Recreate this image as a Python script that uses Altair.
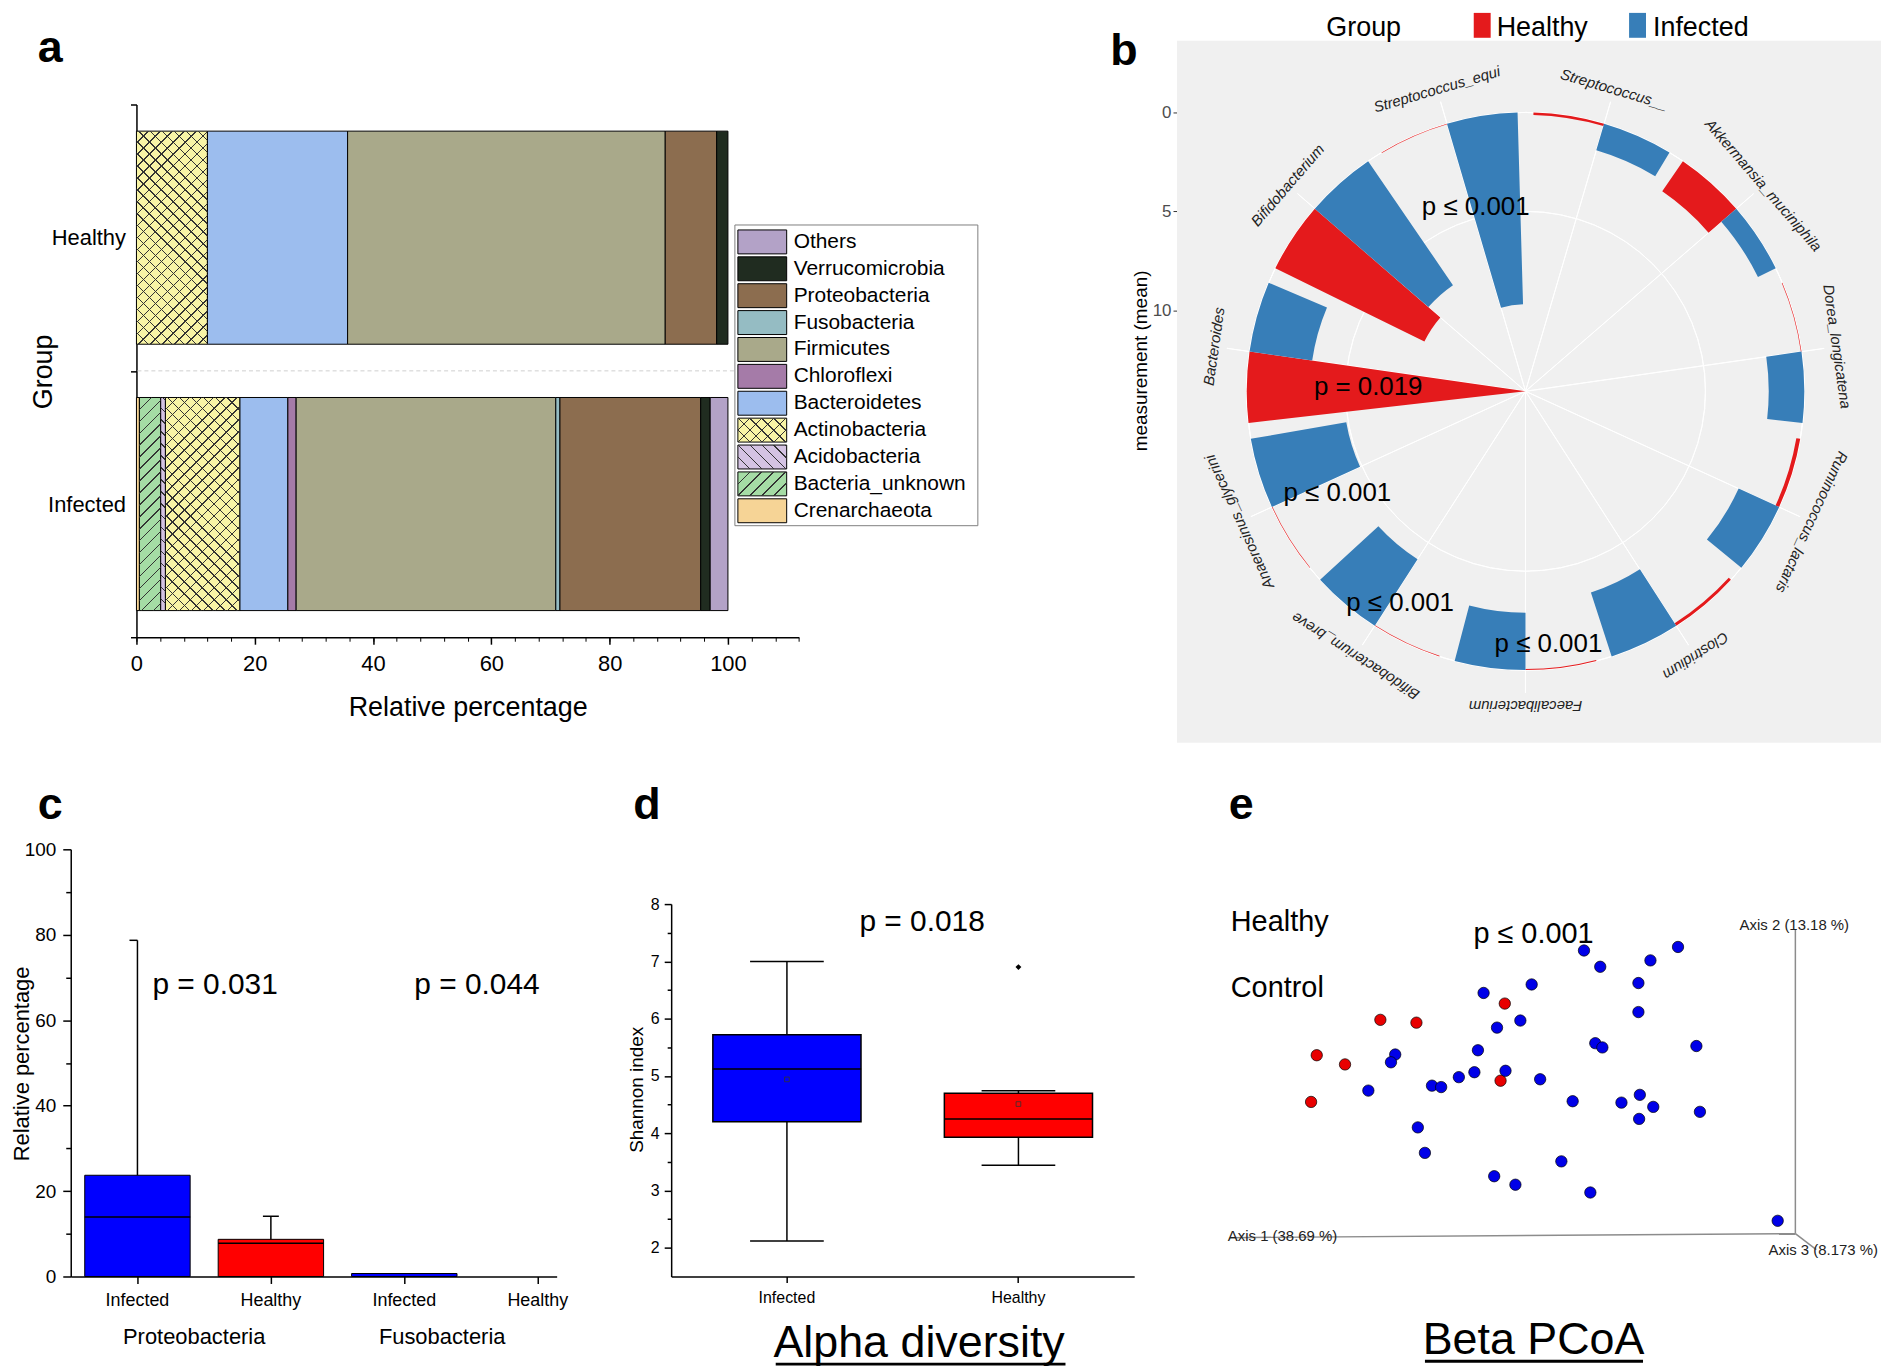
import altair as alt
import pandas as pd

FONT = "Liberation Sans"
W, H = 1881, 1364


def P(v):
    return v - 8


one = pd.DataFrame({"k": [0]})

# ---------------- data ----------------
# panel a
phyla = ["Crenarchaeota", "Bacteria_unknown", "Acidobacteria", "Actinobacteria", "Bacteroidetes",
         "Chloroflexi", "Firmicutes", "Fusobacteria", "Proteobacteria", "Verrucomicrobia", "Others"]
phyla_colors = ["#F6D496", "#A5DCA5", "#D4C3E3", "#F8F4A6", "#9CBDEE",
                "#A57BA8", "#A9A98A", "#95BCC3", "#8C6D4F", "#202C20", "#B3A2C7"]
healthy_pct = [0.0, 0.0, 0.0, 12.0, 23.7, 0.0, 53.7, 0.0, 8.7, 1.9, 0.0]
infected_pct = [0.5, 3.6, 0.8, 12.6, 8.1, 1.4, 43.9, 0.7, 23.8, 1.6, 3.0]

# panel b
b_cats = ["Streptococcus__", "Akkermansia_muciniphila", "Dorea_longicatena", "Ruminococcus_lactaris",
          "Clostridium", "Faecalibacterium", "Bifidobacterium_breve", "Anaerosinus_glycerini",
          "Bacteroides", "Bifidobacterium", "Streptococcus_equi"]
b_healthy = [0.12, 1.85, 0.03, 0.2, 0.15, 0.05, 0.03, 0.03, 14.1, 8.4, 0.03]
b_infected = [1.4, 1.0, 1.8, 2.25, 3.4, 2.9, 4.0, 4.9, 3.2, 7.6, 9.7]

# panel c
c_phyla = ["Proteobacteria", "Proteobacteria", "Fusobacteria", "Fusobacteria"]
c_groups = ["Infected", "Healthy", "Infected", "Healthy"]
c_box = [23.7, 8.7, 0.7, 0.0]
c_line = [13.9, 7.8, 0.6, 0.0]
c_whisker = [78.7, 14.1, 0.7, 0.0]

# panel d
d_groups = ["Infected", "Healthy"]
d_low = [2.12, 3.44]
d_q1 = [4.20, 3.93]
d_med = [5.12, 4.25]
d_q3 = [5.72, 4.70]
d_high = [7.00, 4.74]
d_mean = [4.94, 4.51]
d_out_group = ["Healthy"]
d_out_val = [6.90]

# panel e
e_grp = ["Healthy"] * 7 + ["Infected"] * 36
e_pc1 = [-0.277, -0.237, -0.285, -0.187, -0.136, -0.011, -0.017,
         -0.041, 0.027, 0.101, 0.124, 0.195, 0.234, 0.178, 0.178, 0.011, -0.022,
         -0.049, -0.166, -0.172, -0.204, -0.114, -0.101, -0.076, -0.054, -0.010,
         0.039, 0.117, 0.127, 0.260, 0.085, 0.154, 0.180, 0.199, 0.179, 0.265,
         -0.134, -0.124, -0.026, 0.004, 0.069, 0.110, 0.375]
e_pc2 = [0.039, 0.026, -0.027, 0.089, 0.085, 0.112, 0.003,
         0.127, 0.139, 0.187, 0.164, 0.173, 0.192, 0.141, 0.100, 0.088, 0.078,
         0.046, 0.040, 0.029, -0.011, -0.004, -0.006, 0.008, 0.015, 0.017,
         0.005, 0.056, 0.050, 0.052, -0.026, -0.028, -0.017, -0.034, -0.051, -0.041,
         -0.063, -0.099, -0.132, -0.144, -0.111, -0.155, -0.195]

# ---------------- helpers ----------------
CLEAR = "rgba(0,0,0,0)"


def hatch(w, h, direction, period=12.0, lw=1.0, color="#333333"):
    L = w + h
    k = L / (w * w + h * h)
    dx, dy = w * k, h * k
    if direction == "fwd":
        x1, y1, x2, y2 = 0, 0, dx, dy
    else:
        x1, y1, x2, y2 = 0, 1, dx, 1 - dy
    half = lw * 1.4142 / 2 / L
    stops = [alt.GradientStop(color=CLEAR, offset=0)]
    n = 1
    while n * period < L - 1:
        c = n * period / L
        lo, hi = max(0.0, c - half), min(1.0, c + half)
        stops += [alt.GradientStop(color=CLEAR, offset=lo), alt.GradientStop(color=color, offset=lo),
                  alt.GradientStop(color=color, offset=hi), alt.GradientStop(color=CLEAR, offset=hi)]
        n += 1
    stops.append(alt.GradientStop(color=CLEAR, offset=1))
    return alt.LinearGradient(gradient="linear", stops=stops, x1=x1, y1=y1, x2=x2, y2=y2)


def txt(s, x, y, size, align="center", baseline="middle", **kw):
    return alt.Chart(one).mark_text(text=s, fontSize=size, align=align, baseline=baseline, **kw).encode(
        x=alt.value(P(x)), y=alt.value(P(y)))


def rule(x1, y1, x2, y2, **kw):
    return alt.Chart(one).mark_rule(**kw).encode(
        x=alt.value(P(x1)), y=alt.value(P(y1)), x2=alt.value(P(x2)), y2=alt.value(P(y2)))


def rect(x1, y1, x2, y2, **kw):
    return alt.Chart(one).mark_rect(**kw).encode(
        x=alt.value(P(x1)), y=alt.value(P(y1)), x2=alt.value(P(x2)), y2=alt.value(P(y2)))


layers = []

# ================= PANEL A =================
a_rows = []
for i, ph in enumerate(phyla):
    a_rows.append({"group": "Healthy", "phylum": ph, "order": i, "pct": healthy_pct[i]})
    a_rows.append({"group": "Infected", "phylum": ph, "order": i, "pct": infected_pct[i]})
a_df = pd.DataFrame(a_rows)

A_X0, A_X1 = 137, 137 + 112 * 5.94
A_PX = (A_X1 - A_X0) / 112
A_Y0, A_Y1 = 102, 637
BAND_A = 0.8
A_BH = (A_Y1 - A_Y0) / 2 * BAND_A
a_xs = alt.Scale(domain=[0, 112], range=[P(A_X0), P(A_X1)], nice=False, zero=False)
a_ys = alt.Scale(domain=["Healthy", "Infected"], range=[P(A_Y0), P(A_Y1)], paddingInner=0, paddingOuter=0)
a_cs = alt.Scale(domain=phyla, range=phyla_colors)

a_stack = alt.Chart(a_df).transform_filter("datum.pct > 0").transform_stack(
    stack="pct", groupby=["group"], as_=["x0", "x1"], sort=[alt.SortField("order", order="ascending")])

a_bars = a_stack.mark_bar(height={"band": BAND_A}, stroke="black", strokeWidth=1).encode(
    x=alt.X("x0:Q", scale=a_xs, axis=alt.Axis(
        orient="bottom", offset=P(A_Y1) - H, values=[0, 20, 40, 60, 80, 100], format="d",
        tickSize=7, tickWidth=1.5, tickColor="black", domainColor="black", domainWidth=1.5,
        labelFontSize=22, labelColor="black", labelPadding=9, labelFlush=False, grid=False,
        title="Relative percentage", titleFontSize=27, titleFontWeight="normal", titleColor="black",
        titleBaseline="alphabetic", titleY=79)),
    x2="x1:Q",
    y=alt.Y("group:N", scale=a_ys, axis=alt.Axis(
        orient="left", offset=-P(A_X0), tickBand="extent", tickSize=6, tickWidth=1.5, tickColor="black",
        domainColor="black", domainWidth=1.5, labelFontSize=22, labelColor="black", labelPadding=5,
        labelAngle=0, grid=False, title="Group", titleFontSize=27, titleFontWeight="normal",
        titleColor="black", titleAngle=270, titleAlign="center", titleBaseline="middle",
        titleX=44 - A_X0, titleY=P(370))),
    color=alt.Color("phylum:N", scale=a_cs, legend=None),
)
layers.append(a_bars)

a_minor = alt.Chart(one).mark_point(opacity=0).encode(
    x=alt.X("k:Q", scale=a_xs, axis=alt.Axis(
        orient="bottom", offset=P(A_Y1) - H, values=list(range(0, 113, 4)), tickSize=4, tickWidth=1,
        tickColor="black", labels=False, domain=False, grid=False, title=None)))
layers.append(a_minor)


def a_hatch(group, phylum, direction):
    vals = healthy_pct if group == "Healthy" else infected_pct
    w = vals[phyla.index(phylum)] * A_PX
    return a_stack.transform_filter(
        f"datum.group == '{group}' && datum.phylum == '{phylum}'").mark_bar(
        height={"band": BAND_A}, fill=hatch(w, A_BH, direction), strokeWidth=0).encode(
        x=alt.X("x0:Q", scale=a_xs, axis=None), x2="x1:Q",
        y=alt.Y("group:N", scale=a_ys, axis=None))


layers += [a_hatch("Healthy", "Actinobacteria", "fwd"), a_hatch("Healthy", "Actinobacteria", "back"),
           a_hatch("Infected", "Actinobacteria", "fwd"), a_hatch("Infected", "Actinobacteria", "back"),
           a_hatch("Infected", "Bacteria_unknown", "fwd"), a_hatch("Infected", "Acidobacteria", "back")]

layers.append(rule(A_X0 + 1, 369.5, 802, 369.5, strokeDash=[4, 3], color="#CFCFCF", strokeWidth=1))

# legend of panel a
leg_df = pd.DataFrame({"phylum": phyla})
l_ys = alt.Scale(domain=phyla[::-1], range=[P(226.5), P(523.5)], paddingInner=0, paddingOuter=0)
LBAND = 0.89
LSW_X0, LSW_X1 = 741, 790
layers.append(rect(738, 223, 982, 525, fill="white", stroke="#7F7F7F", strokeWidth=1))
layers.append(alt.Chart(leg_df).mark_bar(height={"band": LBAND}, stroke="black", strokeWidth=1).encode(
    x=alt.value(P(LSW_X0)), x2=alt.value(P(LSW_X1)),
    y=alt.Y("phylum:N", scale=l_ys, axis=None),
    color=alt.Color("phylum:N", scale=a_cs, legend=None)))


def l_hatch(phylum, direction):
    return alt.Chart(leg_df).transform_filter(f"datum.phylum == '{phylum}'").mark_bar(
        height={"band": LBAND}, fill=hatch(LSW_X1 - LSW_X0, 27 * LBAND, direction), strokeWidth=0).encode(
        x=alt.value(P(LSW_X0)), x2=alt.value(P(LSW_X1)), y=alt.Y("phylum:N", scale=l_ys, axis=None))


layers += [l_hatch("Actinobacteria", "fwd"), l_hatch("Actinobacteria", "back"),
           l_hatch("Bacteria_unknown", "fwd"), l_hatch("Acidobacteria", "back")]
layers.append(alt.Chart(leg_df).mark_text(align="left", baseline="middle", fontSize=21, color="black").encode(
    x=alt.value(P(797)), y=alt.Y("phylum:N", scale=l_ys, axis=None), text="phylum:N"))

# ================= PANEL B =================
NB = len(b_cats)
B_CX, B_CY, B_R = 1532, 390, 280
B_MAX = 14.1
b_rows = []
for i, c in enumerate(b_cats):
    b_rows.append({"cat": c, "idx": i, "grp": "Healthy", "val": b_healthy[i]})
    b_rows.append({"cat": c, "idx": i, "grp": "Infected", "val": b_infected[i]})
b_df = pd.DataFrame(b_rows)
b_cat_df = pd.DataFrame({"cat": b_cats, "idx": list(range(NB))})

th_s = alt.Scale(domain=[0, 360], range=[0, 6.283185307179586], zero=False, nice=False)
r_s = alt.Scale(type="linear", domain=[0, B_MAX], range=[B_R, 0], zero=False, nice=False)
BX, BY = alt.value(P(B_CX)), alt.value(P(B_CY))

layers.append(rect(1182, 38, 1889, 743, fill="#F0F0F0"))
layers.append(alt.Chart(pd.DataFrame({"rv": [0, 5, 10]})).mark_arc(
    fillOpacity=0, stroke="white", strokeWidth=1).encode(
    theta=alt.value(0), theta2=alt.value(6.2832), radius=alt.Radius("rv:Q", scale=r_s), x=BX, y=BY))
layers.append(alt.Chart(b_cat_df).transform_calculate(
    th=f"(datum.idx + 0.5) * 360 / {NB}", th2=f"(datum.idx + 0.5) * 360 / {NB} + 0.02").mark_arc(
    fillOpacity=0, stroke="white", strokeWidth=1).encode(
    theta=alt.Theta("th:Q", scale=th_s, stack=False), theta2="th2:Q", radius=alt.value(303), x=BX, y=BY))
layers.append(alt.Chart(b_df).transform_calculate(
    a0=f"(datum.idx + (datum.grp == 'Healthy' ? 0.05 : 0.5)) * 360 / {NB}",
    a1=f"(datum.idx + (datum.grp == 'Healthy' ? 0.5 : 0.95)) * 360 / {NB}",
    r0="0").mark_arc().encode(
    theta=alt.Theta("a0:Q", scale=th_s, stack=False), theta2="a1:Q",
    radius=alt.Radius("r0:Q", scale=r_s), radius2="val:Q",
    color=alt.Color("grp:N", scale=alt.Scale(domain=["Healthy", "Infected"], range=["#E41A1C", "#377EB8"]),
                    legend=None),
    x=BX, y=BY))
layers.append(alt.Chart(b_cat_df).transform_calculate(th=f"(datum.idx + 0.5) * 360 / {NB}").mark_text(
    fontSize=15, fontStyle="italic", color="#222222", align="center", baseline="middle").encode(
    theta=alt.Theta("th:Q", scale=th_s, stack=False), radius=alt.value(316),
    angle=alt.Angle("th:Q", scale=None), text="cat:N", x=BX, y=BY))
layers.append(alt.Chart(pd.DataFrame({"v": [0]})).mark_point(opacity=0).encode(
    y=alt.Y("v:Q", scale=alt.Scale(domain=[0, B_MAX], range=[P(B_CY - B_R), P(B_CY)], nice=False, zero=False),
            axis=alt.Axis(orient="left", offset=-P(1182), values=[0, 5, 10], tickSize=4, tickColor="#333333",
                          tickWidth=1, labelColor="#4D4D4D", labelFontSize=17, labelPadding=2, domain=False,
                          grid=False, title="measurement (mean)", titleFontSize=19, titleFontWeight="normal",
                          titleColor="black", titleAngle=270, titleAlign="center", titleBaseline="middle",
                          titleX=1145 - 1182, titleY=P(359)))))
# legend of panel b
layers.append(txt("Group", 1332, 33, 27, align="left", baseline="alphabetic", color="black"))
layers.append(rect(1480, 10, 1497, 35, fill="#E41A1C"))
layers.append(txt("Healthy", 1503, 33, 27, align="left", baseline="alphabetic", color="black"))
layers.append(rect(1636, 10, 1653, 35, fill="#377EB8"))
layers.append(txt("Infected", 1660, 33, 27, align="left", baseline="alphabetic", color="black"))
for s, x, y in [("p ≤ 0.001", 1482, 205), ("p = 0.019", 1374, 386), ("p ≤ 0.001", 1343, 492),
                ("p ≤ 0.001", 1406, 603), ("p ≤ 0.001", 1555, 644)]:
    layers.append(txt(s, x, y, 26, color="black"))

# ================= PANEL C =================
c_df = pd.DataFrame({"phylum": c_phyla, "group": c_groups, "box": c_box, "line": c_line, "whisker": c_whisker})
c_df["key"] = c_df["phylum"] + "|" + c_df["group"]
C_X0, C_STEP = 71, 134
C_Y0, C_Y1 = 1279, 850
c_xs = alt.Scale(domain=list(c_df["key"]), range=[P(C_X0), P(C_X0 + 4 * C_STEP)], paddingInner=0,
                 paddingOuter=0)
c_ys = alt.Scale(domain=[0, 100], range=[P(C_Y0), P(C_Y1)], nice=False, zero=False)
grp_cs = alt.Scale(domain=["Infected", "Healthy"], range=["#0000FF", "#FF0000"])
c_base = alt.Chart(c_df)
c_x_noaxis = alt.X("key:N", scale=c_xs, axis=None)

layers.append(c_base.transform_filter("datum.box > 0").mark_bar(
    width={"band": 0.79}, stroke="black", strokeWidth=1).encode(
    x=alt.X("key:N", scale=c_xs, axis=alt.Axis(
        orient="bottom", offset=P(C_Y0) - H, labelExpr="split(datum.value, '|')[1]", labelAngle=0,
        tickSize=7, tickWidth=1.5, tickColor="black", labelFontSize=18, labelColor="black", labelPadding=8,
        domain=False, grid=False, title=None)),
    y=alt.Y("box:Q", scale=c_ys, axis=alt.Axis(
        orient="left", offset=-P(C_X0), values=[0, 20, 40, 60, 80, 100], tickSize=8, tickWidth=1.5,
        tickColor="black", domainColor="black", domainWidth=1.5, labelFontSize=19, labelColor="black",
        labelPadding=7, labelFlush=False, grid=False, title="Relative percentage", titleFontSize=22,
        titleFontWeight="normal", titleColor="black", titleAngle=270, titleAlign="center",
        titleBaseline="middle", titleX=22 - C_X0, titleY=P(1065))),
    color=alt.Color("group:N", scale=grp_cs, legend=None)))
layers.append(alt.Chart(one).mark_point(opacity=0).encode(
    y=alt.Y("k:Q", scale=c_ys, axis=alt.Axis(
        orient="left", offset=-P(C_X0), values=[10, 30, 50, 70, 90], tickSize=5, tickWidth=1.5,
        tickColor="black", labels=False, domain=False, grid=False, title=None))))
layers.append(alt.Chart(one).mark_point(opacity=0).encode(
    x=alt.X("k:Q", scale=alt.Scale(domain=[0, 1], range=[P(C_X0), P(559)], nice=False, zero=False),
            axis=alt.Axis(orient="bottom", offset=P(C_Y0) - H, ticks=False, labels=False, domainColor="black",
                          domainWidth=1.5, grid=False, title=None))))
layers.append(c_base.transform_filter("datum.line > 0 && datum.box > 1").mark_tick(
    orient="horizontal", size=106, thickness=1.5, color="black", opacity=1).encode(
    x=c_x_noaxis, y=alt.Y("line:Q", scale=c_ys, axis=None)))
layers.append(c_base.transform_filter("datum.whisker > datum.box").mark_rule(color="black", strokeWidth=1.5).encode(
    x=c_x_noaxis, y=alt.Y("box:Q", scale=c_ys, axis=None), y2="whisker:Q"))
layers.append(c_base.transform_filter("datum.key == 'Proteobacteria|Healthy'").mark_tick(
    orient="horizontal", size=16, thickness=1.5, color="black", opacity=1).encode(
    x=c_x_noaxis, y=alt.Y("whisker:Q", scale=c_ys, axis=None)))
layers.append(c_base.transform_filter("datum.key == 'Proteobacteria|Infected'").mark_tick(
    orient="horizontal", size=8, thickness=1.5, color="black", opacity=1, xOffset=-4).encode(
    x=c_x_noaxis, y=alt.Y("whisker:Q", scale=c_ys, axis=None)))
layers.append(txt("p = 0.031", 216, 986, 30, color="black"))
layers.append(txt("p = 0.044", 479, 986, 30, color="black"))
layers.append(txt("Proteobacteria", 195, 1340, 22, color="black"))
layers.append(txt("Fusobacteria", 444, 1340, 22, color="black"))

# ================= PANEL D =================
d_df = pd.DataFrame({"group": d_groups, "low": d_low, "q1": d_q1, "med": d_med, "q3": d_q3,
                     "high": d_high, "mean": d_mean})
d_out = pd.DataFrame({"group": d_out_group, "val": d_out_val})
D_X0, D_X1 = 674, 1139
D_Y0, D_Y1 = 1279, 905
d_xs = alt.Scale(domain=d_groups, range=[P(D_X0), P(D_X1)], paddingInner=0, paddingOuter=0)
d_ys = alt.Scale(domain=[1.5, 8], range=[P(D_Y0), P(D_Y1)], nice=False, zero=False)
d_base = alt.Chart(d_df)
d_x_noaxis = alt.X("group:N", scale=d_xs, axis=None)

layers.append(d_base.transform_filter("datum.q3 > datum.q1").mark_rule(color="black", strokeWidth=1.5).encode(
    x=d_x_noaxis, y=alt.Y("low:Q", scale=d_ys, axis=None), y2="q1:Q"))
layers.append(d_base.mark_rule(color="black", strokeWidth=1.5).encode(
    x=d_x_noaxis, y=alt.Y("q3:Q", scale=d_ys, axis=None), y2="high:Q"))
layers.append(d_base.mark_bar(width={"band": 0.64}, stroke="black", strokeWidth=1.5).encode(
    x=alt.X("group:N", scale=d_xs, axis=alt.Axis(
        orient="bottom", offset=P(D_Y0) - H, labelAngle=0, tickSize=6, tickWidth=1.5, tickColor="black",
        domainColor="black", domainWidth=1.5, labelFontSize=16, labelColor="black", labelPadding=7,
        grid=False, title=None)),
    y=alt.Y("q1:Q", scale=d_ys, axis=alt.Axis(
        orient="left", offset=-P(D_X0), values=[2, 3, 4, 5, 6, 7, 8], tickSize=7, tickWidth=1.5,
        tickColor="black", domainColor="black", domainWidth=1.5, labelFontSize=16, labelColor="black",
        labelPadding=5, labelFlush=False, grid=False, title="Shannon index", titleFontSize=19,
        titleFontWeight="normal", titleColor="black", titleAngle=270, titleAlign="center",
        titleBaseline="middle", titleX=639 - D_X0, titleY=P(1091))),
    y2="q3:Q",
    color=alt.Color("group:N", scale=grp_cs, legend=None)))
layers.append(alt.Chart(one).mark_point(opacity=0).encode(
    y=alt.Y("k:Q", scale=d_ys, axis=alt.Axis(
        orient="left", offset=-P(D_X0), values=[2.5, 3.5, 4.5, 5.5, 6.5, 7.5], tickSize=4, tickWidth=1.5,
        tickColor="black", labels=False, domain=False, grid=False, title=None))))
layers.append(d_base.mark_tick(orient="horizontal", size=149, thickness=1.5, color="black", opacity=1).encode(
    x=d_x_noaxis, y=alt.Y("med:Q", scale=d_ys, axis=None)))
layers.append(d_base.mark_tick(orient="horizontal", size=74, thickness=1.5, color="black", opacity=1).encode(
    x=d_x_noaxis, y=alt.Y("low:Q", scale=d_ys, axis=None)))
layers.append(d_base.mark_tick(orient="horizontal", size=74, thickness=1.5, color="black", opacity=1).encode(
    x=d_x_noaxis, y=alt.Y("high:Q", scale=d_ys, axis=None)))
layers.append(d_base.mark_point(shape="square", size=22, filled=False, color="#333333", strokeWidth=0.8,
                                opacity=1).encode(
    x=d_x_noaxis, y=alt.Y("mean:Q", scale=d_ys, axis=None)))
layers.append(alt.Chart(d_out).mark_point(shape="diamond", size=35, filled=True, color="black", opacity=1).encode(
    x=alt.X("group:N", scale=d_xs, axis=None), y=alt.Y("val:Q", scale=d_ys, axis=None)))
layers.append(txt("p = 0.018", 926, 923, 30, color="black"))
layers.append(txt("Alpha diversity", 923, 1360, 45, baseline="alphabetic", color="black"))
layers.append(rule(779, 1367, 1070, 1367, color="black", strokeWidth=3))

# ================= PANEL E =================
e_df = pd.DataFrame({"grp": e_grp, "pc1": e_pc1, "pc2": e_pc2})
e_xs = alt.Scale(domain=[-0.4, 0.4], range=[P(1235), P(1803)], nice=False, zero=False)
e_ys = alt.Scale(domain=[-0.216, 0.216], range=[P(1238), P(931)], nice=False, zero=False)
layers.append(rule(1235, 1240, 1803, 1236, color="#8C8C8C", strokeWidth=1.5))
layers.append(rule(1803, 931, 1803, 1236, color="#8C8C8C", strokeWidth=1.5))
layers.append(rule(1803, 1236, 1824, 1252, color="#8C8C8C", strokeWidth=1.5))
layers.append(txt("Axis 1 (38.69 %)", 1233, 1238, 15, align="left", color="#222222"))
layers.append(txt("Axis 2 (13.18 %)", 1747, 926, 15, align="left", color="#222222"))
layers.append(txt("Axis 3 (8.173 %)", 1776, 1252, 15, align="left", color="#222222"))
layers.append(alt.Chart(e_df).mark_point(shape="circle", filled=True, size=130, stroke="black", strokeWidth=0.7,
                                         opacity=1).encode(
    x=alt.X("pc1:Q", scale=e_xs, axis=None), y=alt.Y("pc2:Q", scale=e_ys, axis=None),
    color=alt.Color("grp:N", scale=alt.Scale(domain=["Healthy", "Infected"], range=["#E80000", "#0000E8"]),
                    legend=None)))
layers.append(txt("Healthy", 1236, 923, 29, align="left", color="black"))
layers.append(txt("Control", 1236, 989, 29, align="left", color="black"))
layers.append(txt("p ≤ 0.001", 1540, 935, 29, color="black"))
layers.append(txt("Beta PCoA", 1540, 1357, 45, baseline="alphabetic", color="black"))
layers.append(rule(1431, 1364, 1650, 1364, color="black", strokeWidth=3))

# ================= panel letters =================
for s, x, y in [("a", 38, 59), ("b", 1115, 62), ("c", 38, 820), ("d", 636, 820), ("e", 1234, 820)]:
    layers.append(txt(s, x, y, 45, align="left", baseline="alphabetic", fontWeight="bold", color="black"))

chart = alt.layer(*layers).resolve_scale(
    x="independent", y="independent", color="independent", theta="independent", radius="independent"
).resolve_axis(x="independent", y="independent").properties(
    width=W, height=H, autosize=alt.AutoSizeParams(type="none"), padding=0
).configure(font=FONT).configure_view(strokeWidth=0)

chart.save("out.html", embed_options={"renderer": "svg", "actions": False})
